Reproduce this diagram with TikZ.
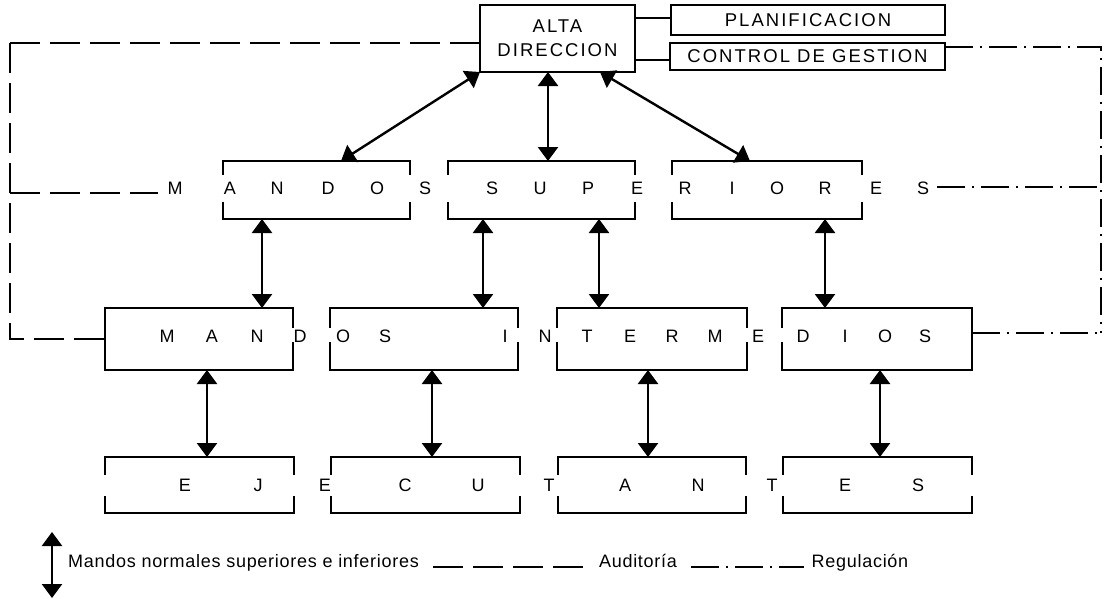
\documentclass[tikz,border=0pt]{standalone}
\usepackage{fontspec}
\setmainfont{Liberation Sans}
\usetikzlibrary{arrows.meta}
\newcommand\gapbox[3]{%
  \draw[boxline] ([yshift=-#2]#1.north west) -- (#1.north west) -- (#1.north east) -- ([yshift=-#2]#1.north east);
  \draw[boxline] ([yshift=#3]#1.south west) -- (#1.south west) -- (#1.south east) -- ([yshift=#3]#1.south east);}
\begin{document}
\begin{tikzpicture}[x=1pt,y=-1pt,
  boxline/.style={line width=1.8pt},
  link/.style={line width=2.2pt},
  frame/.style={draw, line width=1.8pt, inner sep=0pt, outer sep=0pt, align=center,
    font=\fontsize{18.5}{24}\selectfont\addfontfeature{LetterSpace=11}},
  slot/.style={inner sep=0pt, outer sep=0pt},
  lt/.style={inner sep=0pt, font=\fontsize{18}{20}\selectfont},
  legtxt/.style={inner sep=0pt, anchor=base, font=\fontsize{18}{20}\selectfont\addfontfeature{LetterSpace=4}},
  dbl/.style={{Triangle[width=20pt,length=14pt]}-{Triangle[width=20pt,length=14pt]}, line width=2.4pt},
  aud/.style={line width=1.6pt, dash pattern=on 30pt off 10pt},
  reg/.style={line width=1.6pt, dash pattern=on 28pt off 7pt on 2pt off 7pt},
]
\useasboundingbox (0,0) rectangle (1104,600);

% top boxes
\node[frame, minimum width=155pt, minimum height=67pt] (alta) at (557.5,38.5) {ALTA\\DIRECCION};
\node[frame, minimum width=274pt, minimum height=30pt] (plan) at (808,20) {PLANIFICACION};
\node[frame, minimum width=275pt, minimum height=27pt] (ctrl) at (807.5,56.5) {CONTROL DE GESTION};
\draw[link] ([yshift=2pt]alta.east |- plan.west) -- ([yshift=2pt]plan.west);
\draw[link] ([yshift=-3.5pt]alta.east |- ctrl.west) -- ([yshift=-3.5pt]ctrl.west);

% row 1
\node[slot, minimum width=187pt, minimum height=58pt] (s1) at (316.5,190) {};
\node[slot, minimum width=187pt, minimum height=58pt] (s2) at (541.5,190) {};
\node[slot, minimum width=190pt, minimum height=58pt] (s3) at (767,190) {};
\gapbox{s1}{14pt}{17pt}
\gapbox{s2}{14pt}{17pt}
\gapbox{s3}{14pt}{17pt}

% row 2
\node[slot, minimum width=188pt, minimum height=62pt] (i1) at (199,339) {};
\node[slot, minimum width=188pt, minimum height=62pt] (i2) at (424,339) {};
\node[slot, minimum width=190pt, minimum height=62pt] (i3) at (652,339) {};
\node[slot, minimum width=190pt, minimum height=62pt] (i4) at (877,339) {};
\gapbox{i1}{20pt}{28pt}
\gapbox{i2}{20pt}{28pt}
\gapbox{i3}{20pt}{28pt}
\gapbox{i4}{20pt}{28pt}
\draw[boxline] (i1.north west) -- (i1.south west);
\draw[boxline] (i4.north east) -- (i4.south east);

% row 3
\node[slot, minimum width=189pt, minimum height=56pt] (e1) at (199.5,485) {};
\node[slot, minimum width=189pt, minimum height=56pt] (e2) at (425.5,485) {};
\node[slot, minimum width=188pt, minimum height=56pt] (e3) at (652,485) {};
\node[slot, minimum width=189pt, minimum height=56pt] (e4) at (877.5,485) {};
\gapbox{e1}{18pt}{17pt}
\gapbox{e2}{18pt}{17pt}
\gapbox{e3}{18pt}{17pt}
\gapbox{e4}{18pt}{17pt}

% spaced letters
\foreach \c/\x [count=\i] in {M/175,A/230,N/277,D/328,O/377,S/425,S/492,U/540,P/588,E/637,R/685,I/732,O/777,R/825,E/876,S/923}
  \node[lt] (ra\i) at (\x,188.5) {\c};
\foreach \c/\x [count=\i] in {M/167,A/212,N/257,D/300,O/343,S/385,I/505,N/545,T/587,E/630,R/672,M/715,E/758,D/803,I/845,O/885,S/925}
  \node[lt] (rb\i) at (\x,336) {\c};
\foreach \c/\x [count=\i] in {E/185,J/258,E/325,C/405,U/478,T/549,A/625,N/698,T/772,E/845,S/918}
  \node[lt] (rc\i) at (\x,485) {\c};

% arrows alta -> row 1
\draw[dbl] (alta.south west) -- ([xshift=24.5pt]s1.north);
\draw[dbl] ([xshift=-9.5pt]alta.south) -- ([xshift=-9.5pt]alta.south |- s2.north);
\draw[dbl] ([xshift=42.5pt]alta.south) -- ([xshift=-17pt]s3.north);
% row 1 -> row 2
\draw[dbl] ([xshift=-54.5pt]s1.south) -- ([xshift=-54.5pt]s1.south |- i1.north);
\draw[dbl] ([xshift=-58.5pt]s2.south) -- ([xshift=-58.5pt]s2.south |- i2.north);
\draw[dbl] ([xshift=57.5pt]s2.south) -- ([xshift=57.5pt]s2.south |- i3.north);
\draw[dbl] ([xshift=58pt]s3.south) -- ([xshift=58pt]s3.south |- i4.north);
% row 2 -> row 3
\draw[dbl] ([xshift=8pt]i1.south) -- ([xshift=8pt]i1.south |- e1.north);
\draw[dbl] ([xshift=8pt]i2.south) -- ([xshift=8pt]i2.south |- e2.north);
\draw[dbl] ([xshift=-4pt]i3.south) -- ([xshift=-4pt]i3.south |- e3.north);
\draw[dbl] ([xshift=3pt]i4.south) -- ([xshift=3pt]i4.south |- e4.north);

% auditoria lines (left)
\coordinate (atl) at (10,43);
\coordinate (aml) at (10,193);
\draw[aud] (atl) -- (alta.west |- atl);
\draw[aud] (atl) -- (atl |- i1.west) -- (i1.west);
\draw[aud] (aml) -- ([xshift=-9pt]aml -| ra1.west);

% regulacion lines (right)
\coordinate (rtr) at (1101,47);
\coordinate (rmr) at (1101,187);
\coordinate (rbr) at (1101,333);
\draw[reg] (ctrl.east |- rtr) -- (rtr) -- (rbr);
\draw[reg] ([xshift=8pt]ra16.east |- rmr) -- (rmr);
\draw[reg] (i4.east |- rbr) -- (rbr);

% legend
\coordinate (lga) at (52,532);
\coordinate (lgb) at (52,598);
\draw[dbl] (lga) -- (lgb);
\node[legtxt, anchor=base west] (lg1) at (68,567) {Mandos normales superiores e inferiores};
\node[legtxt] (lg2) at (638,567) {Auditoría};
\node[legtxt] (lg3) at (860,567) {Regulación};
\draw[aud] ([xshift=14pt]lg1.base east) -- ([xshift=-12pt]lg2.base west);
\draw[reg] ([xshift=14pt]lg2.base east) -- ([xshift=-8pt]lg3.base west);
\end{tikzpicture}
\end{document}
